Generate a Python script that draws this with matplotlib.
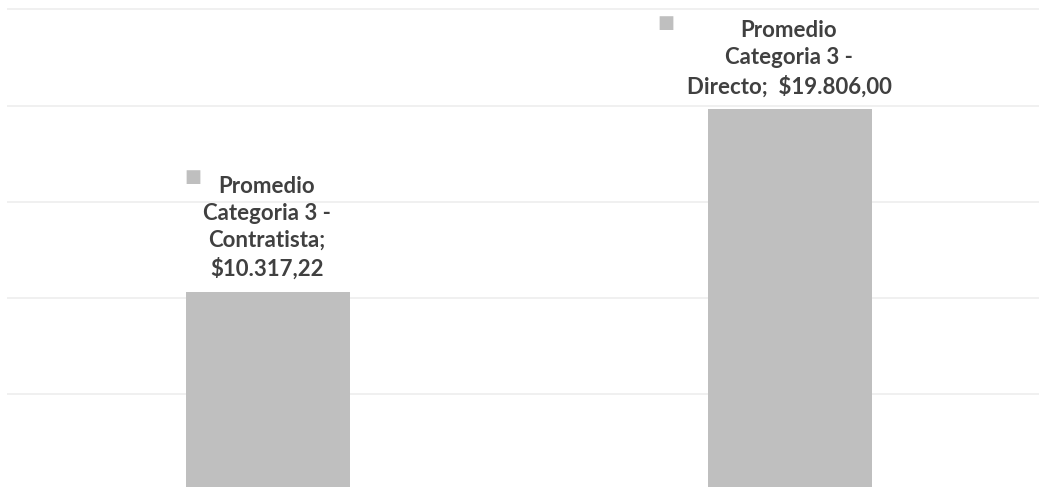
import numpy as np
import matplotlib.pyplot as plt

categorias = ["Promedio Categoria 3 - Contratista", "Promedio Categoria 3 - Directo"]
valores = [10317.22, 19806.00]
etiquetas = ["Promedio\nCategoria 3 -\nContratista;\n$10.317,22",
             "Promedio\nCategoria 3 -\nDirecto;  $19.806,00"]

bar_color = "#BFBFBF"
text_color = "#404040"
grid_color = "#EDEDED"

fig = plt.figure(figsize=(10.39, 4.87), dpi=100)
ax = fig.add_axes([7 / 1039, 0, 1 - 7 / 1039, 1])

x = np.arange(len(valores))
ax.bar(x, valores, width=0.314, color=bar_color, zorder=2)

ax.set_ylim(156, 25494)
ax.set_xlim(-0.5, 1.477)
ax.set_yticks(np.arange(5000, 25001, 5000))
ax.yaxis.grid(True, color=grid_color, linewidth=1.2, zorder=0)
ax.tick_params(left=False, bottom=False, labelleft=False, labelbottom=False)
for s in ax.spines.values():
    s.set_visible(False)

# etiquetas de datos sobre cada barra
for xi, v, lab in zip(x, valores, etiquetas):
    ax.annotate(lab, (xi, v), xytext=(-1, 12), textcoords="offset pixels",
                ha="center", va="bottom", multialignment="center",
                fontsize=16, fontweight="bold", family="Lato",
                color=text_color, linespacing=1.36, zorder=3)

# clave de leyenda junto a cada etiqueta
ax.annotate("■", (x[0], valores[0]), xytext=(-75, 115), textcoords="offset pixels",
            ha="center", va="center", fontsize=13, color=bar_color, family="DejaVu Sans")
ax.annotate("■", (x[1], valores[1]), xytext=(-124, 86), textcoords="offset pixels",
            ha="center", va="center", fontsize=13, color=bar_color, family="DejaVu Sans")

fig.savefig("out.png", dpi=100)
